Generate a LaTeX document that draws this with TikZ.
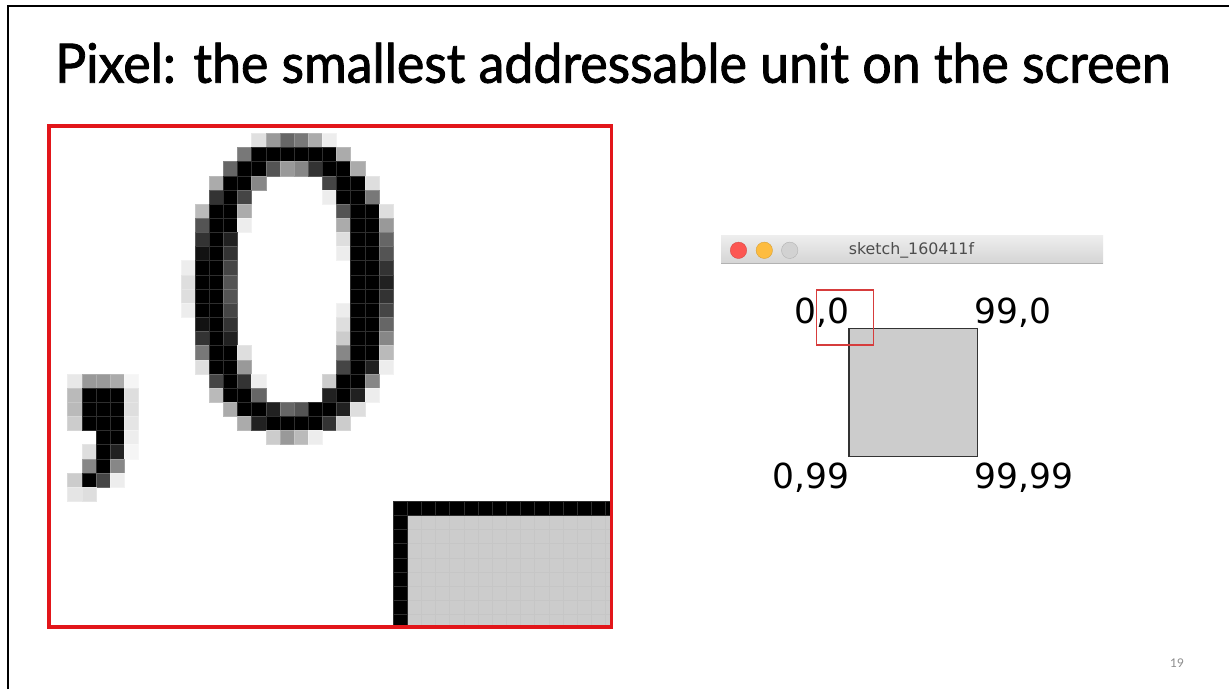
\documentclass[tikz,border=0pt]{standalone}
\usepackage{graphicx}
\usepackage{fontspec}
\setmainfont{Lato}
\newfontfamily\headfont{Lato}[FakeBold=1.6]
\newfontfamily\labelfont{DejaVu Sans}

\definecolor{framered}{RGB}{226,22,26}
\definecolor{zoomred}{RGB}{214,60,60}
\definecolor{boxgray}{RGB}{204,204,204}
\definecolor{gridgray}{RGB}{198,198,198}
\definecolor{barTop}{RGB}{238,238,238}
\definecolor{barBot}{RGB}{213,213,213}
\definecolor{barLine}{RGB}{178,178,178}
\definecolor{btnred}{RGB}{252,87,83}
\definecolor{btnyellow}{RGB}{253,188,64}
\definecolor{btngray}{RGB}{210,210,210}
\definecolor{titlegray}{RGB}{77,77,77}
\definecolor{pagegray}{RGB}{140,140,140}

% one magnified screen pixel: column, row, darkness (percent black)
\newcommand{\pixcell}[3]{%
  \pgfmathsetmacro{\pxx}{180.8+14.15*#1}%
  \pgfmathsetmacro{\pxy}{133.3+14.15*#2}%
  \pgfmathtruncatemacro{\pxl}{0.82*#3}%
  \filldraw[fill=black!#3, draw=black!\pxl, line width=0.4]
    (\pxx,\pxy) rectangle ++(14.15,14.15);%
}

\begin{document}
\begin{tikzpicture}[x=1pt, y=-1pt,
  coordlabel/.style={font=\labelfont\fontsize{34.5}{40}\selectfont, inner sep=0},
  btn/.style={line width=0.4}]
\useasboundingbox (0,0) rectangle (1229,689);
\fill[white] (0,0) rectangle (1229,689);

% slide edge
\draw[line width=2] (8,689) -- (8,6) -- (1229,6);

% heading
\node[anchor=base west, inner sep=0] (title) at (55,82.7)
  {\resizebox{1115pt}{40pt}{\headfont Pixel: the smallest addressable unit on the screen}};

% ---------- magnified view ----------
\begin{scope}
  \clip (48.7,126) rectangle (611.5,627);
  % grey square interior
  \fill[boxgray] (407.2,515.35) rectangle (620,640);
  \foreach \gc in {17,...,30}
    \draw[gridgray, line width=0.4] ({180.8+14.15*\gc},515.35) -- ({180.8+14.15*\gc},640);
  \foreach \gr in {28,...,34}
    \draw[gridgray, line width=0.4] (407.2,{133.3+14.15*\gr}) -- (620,{133.3+14.15*\gr});
  % square outline pixels
  \foreach \gc in {15,...,30} { \pixcell{\gc}{26}{100} }
  \foreach \gr in {27,...,34} { \pixcell{15}{\gr}{100} }
  % the digit 0
  \foreach \pc/\pr/\pv in {
    5/0/12, 6/0/40, 7/0/60, 8/0/53, 9/0/33, 10/0/7,
    4/1/53, 5/1/100, 6/1/100, 7/1/100, 8/1/100, 9/1/100, 10/1/100, 11/1/33,
    3/2/60, 4/2/100, 5/2/100, 6/2/67, 7/2/40, 8/2/47, 9/2/80, 10/2/100, 11/2/100, 12/2/33,
    2/3/33, 3/3/100, 4/3/100, 5/3/47, 10/3/73, 11/3/100, 12/3/100, 13/3/13,
    2/4/80, 3/4/100, 4/4/73, 10/4/7, 11/4/100, 12/4/100, 13/4/53,
    1/5/27, 2/5/100, 3/5/100, 4/5/33, 11/5/67, 12/5/100, 13/5/100, 14/5/13,
    1/6/67, 2/6/100, 3/6/100, 4/6/7, 11/6/33, 12/6/100, 13/6/100, 14/6/40,
    1/7/80, 2/7/100, 3/7/87, 11/7/13, 12/7/100, 13/7/100, 14/7/60,
    1/8/93, 2/8/100, 3/8/80, 11/8/7, 12/8/100, 13/8/100, 14/8/67,
    0/9/7, 1/9/100, 2/9/100, 3/9/73, 12/9/100, 13/9/100, 14/9/80,
    0/10/13, 1/10/100, 2/10/100, 3/10/67, 12/10/100, 13/10/100, 14/10/87,
    0/11/13, 1/11/100, 2/11/100, 3/11/67, 12/11/100, 13/11/100, 14/11/80,
    0/12/7, 1/12/100, 2/12/100, 3/12/73, 11/12/7, 12/12/100, 13/12/100, 14/12/73,
    1/13/93, 2/13/100, 3/13/80, 11/13/13, 12/13/100, 13/13/100, 14/13/60,
    1/14/80, 2/14/100, 3/14/87, 11/14/20, 12/14/100, 13/14/100, 14/14/47,
    1/15/53, 2/15/100, 3/15/100, 4/15/13, 11/15/47, 12/15/100, 13/15/100, 14/15/27,
    1/16/13, 2/16/100, 3/16/100, 4/16/40, 11/16/73, 12/16/100, 13/16/87, 14/16/7,
    2/17/73, 3/17/100, 4/17/80, 5/17/7, 10/17/20, 11/17/100, 12/17/100, 13/17/47,
    2/18/27, 3/18/100, 4/18/100, 5/18/60, 10/18/87, 11/18/100, 12/18/87, 13/18/7,
    3/19/33, 4/19/100, 5/19/100, 6/19/87, 7/19/60, 8/19/67, 9/19/100, 10/19/100, 11/19/87, 12/19/13,
    4/20/33, 5/20/87, 6/20/100, 7/20/100, 8/20/100, 9/20/100, 10/20/80, 11/20/20,
    6/21/20, 7/21/40, 8/21/27, 9/21/7}
    { \pixcell{\pc}{\pr}{\pv} }
  % the comma
  \foreach \pc/\pr/\pv in {
    -8/17/9, -7/17/40, -6/17/40, -5/17/33, -4/17/4,
    -8/18/27, -7/18/100, -6/18/100, -5/18/100, -4/18/13,
    -8/19/27, -7/19/100, -6/19/100, -5/19/100, -4/19/13,
    -8/20/20, -7/20/100, -6/20/100, -5/20/100, -4/20/10,
    -6/21/100, -5/21/100, -4/21/7,
    -7/22/13, -6/22/100, -5/22/87, -4/22/4,
    -7/23/47, -6/23/100, -5/23/47,
    -8/24/20, -7/24/100, -6/24/73, -5/24/7,
    -8/25/10, -7/25/13}
    { \pixcell{\pc}{\pr}{\pv} }
\end{scope}
\draw[framered, line width=3.6] (48.7,126) rectangle (611.5,627);

% ---------- sketch window ----------
\shade[top color=barTop, bottom color=barBot] (721,235) rectangle (1103,263);
\draw[barLine, line width=0.8] (721,263) -- (1103,263);
\filldraw[btn, fill=btnred, draw=btnred!85!black] (738.5,250.3) circle (8.2);
\filldraw[btn, fill=btnyellow, draw=btnyellow!85!black] (764.3,250.3) circle (8.2);
\filldraw[btn, fill=btngray, draw=btngray!85!black] (789.7,250.3) circle (8.2);
\node[font=\labelfont\fontsize{15.8}{18}\selectfont, text=titlegray,
      anchor=base, inner sep=0] (wintitle) at (911.5,254.8) {sketch\_160411f};

% drawn square and its corner coordinates
\node[draw=black!80, line width=1.3, fill=boxgray, minimum size=128.3pt,
      inner sep=0, anchor=north west] (sq) at (848.3,327.7) {};
\node[coordlabel, anchor=base east] (tl) at (850,323.3) {0,0};
\node[coordlabel, anchor=base west] (tr) at (974.7,323.3) {99,0};
\node[coordlabel, anchor=base east] (bl) at (850,488.3) {0,99};
\node[coordlabel, anchor=base west] (br) at (974.7,488.3) {99,99};

% region shown magnified
\draw[zoomred, line width=1.3] (816.7,290) rectangle (873.3,345);

% slide number
\node[font=\fontsize{12}{14}\selectfont, text=pagegray, anchor=base west,
      inner sep=0] (pagenum) at (1170,667) {19};
\end{tikzpicture}
\end{document}
